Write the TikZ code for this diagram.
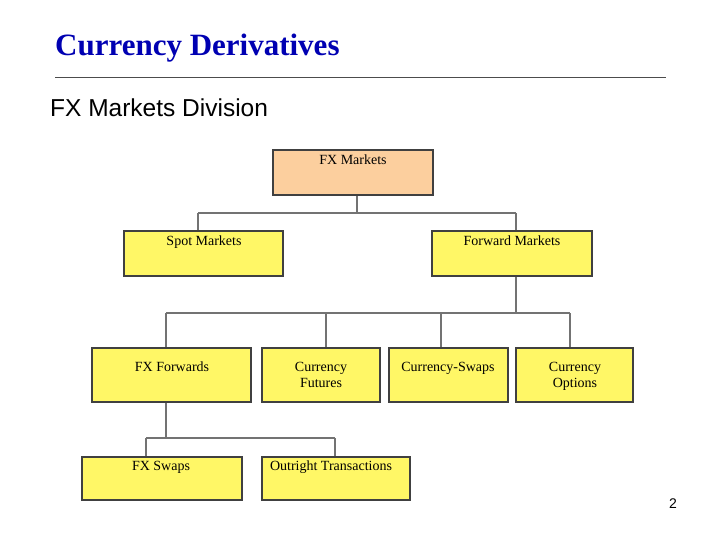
\documentclass[tikz,border=0pt]{standalone}
\usepackage{fontspec}
\setmainfont{Liberation Serif}
\newfontfamily\arial{Liberation Sans}
\begin{document}
\begin{tikzpicture}[x=1pt,y=-1pt,
  box/.style={draw=black!75,line width=1.6pt,fill=yellow!60!white},
  lbl/.style={anchor=north,font=\fontsize{14}{16}\selectfont,align=center,inner sep=0pt},
  conn/.style={draw=black!55,line width=2.8pt}]
\useasboundingbox (0,0) rectangle (720,540);
\node[anchor=west,inner sep=0pt,text=blue!70!black,font=\fontsize{31}{34}\bfseries\selectfont] (title) at (55,48) {Currency Derivatives};
\draw[black!70,line width=0.6pt] (55,77) coordinate (l1) -- (666,77) coordinate (l2);
\node[anchor=west,inner sep=0pt,font=\arial\fontsize{24.5}{27}\selectfont] (sub) at (50,108) {FX Markets Division};
% connectors
\coordinate (a1) at (357,213); \coordinate (a2) at (198,213); \coordinate (a3) at (516,213);
\coordinate (b1) at (516,313); \coordinate (b2) at (166,313); \coordinate (b3) at (570,313);
\coordinate (c1) at (166,438); \coordinate (c2) at (146,438); \coordinate (c3) at (335,438);
\draw[conn] (357,195) -- (a1); \draw[conn] (a2) -- (a3);
\draw[conn] (a2) -- (198,231); \draw[conn] (a3) -- (516,231);
\draw[conn] (516,276) -- (b1); \draw[conn] (b2) -- (b3);
\foreach \x in {166,326,441,570} \draw[conn] (\x,313) -- (\x,348);
\draw[conn] (166,402) -- (c1); \draw[conn] (c2) -- (c3);
\draw[conn] (c2) -- (146,457); \draw[conn] (c3) -- (335,457);
% boxes
\draw[box,fill={rgb,255:red,252;green,207;blue,158}] (273,150) rectangle (433,195);
\node[lbl] (fx) at (353,155) {FX Markets};
\draw[box] (124,231) rectangle (283,276); \node[lbl] (spot) at (204,236) {Spot Markets};
\draw[box] (432,231) rectangle (592,276); \node[lbl] (fwd) at (512,236) {Forward Markets};
\draw[box] (92,348) rectangle (251,402); \node[lbl] (fxf) at (172,362) {FX Forwards};
\draw[box] (262,348) rectangle (380,402); \node[lbl] (cf) at (321,362) {Currency\\Futures};
\draw[box] (389,348) rectangle (508,402); \node[lbl] (cs) at (448,362) {Currency-Swaps};
\draw[box] (516,348) rectangle (633,402); \node[lbl] (co) at (575,362) {Currency\\Options};
\draw[box] (82,457) rectangle (242,500); \node[lbl] (fs) at (161,461) {FX Swaps};
\draw[box] (262,457) rectangle (410,500); \node[lbl] (ot) at (331,461) {Outright Transactions};
\node[font=\arial\fontsize{14}{16}\selectfont] (pg) at (673,504) {2};
\end{tikzpicture}
\end{document}
